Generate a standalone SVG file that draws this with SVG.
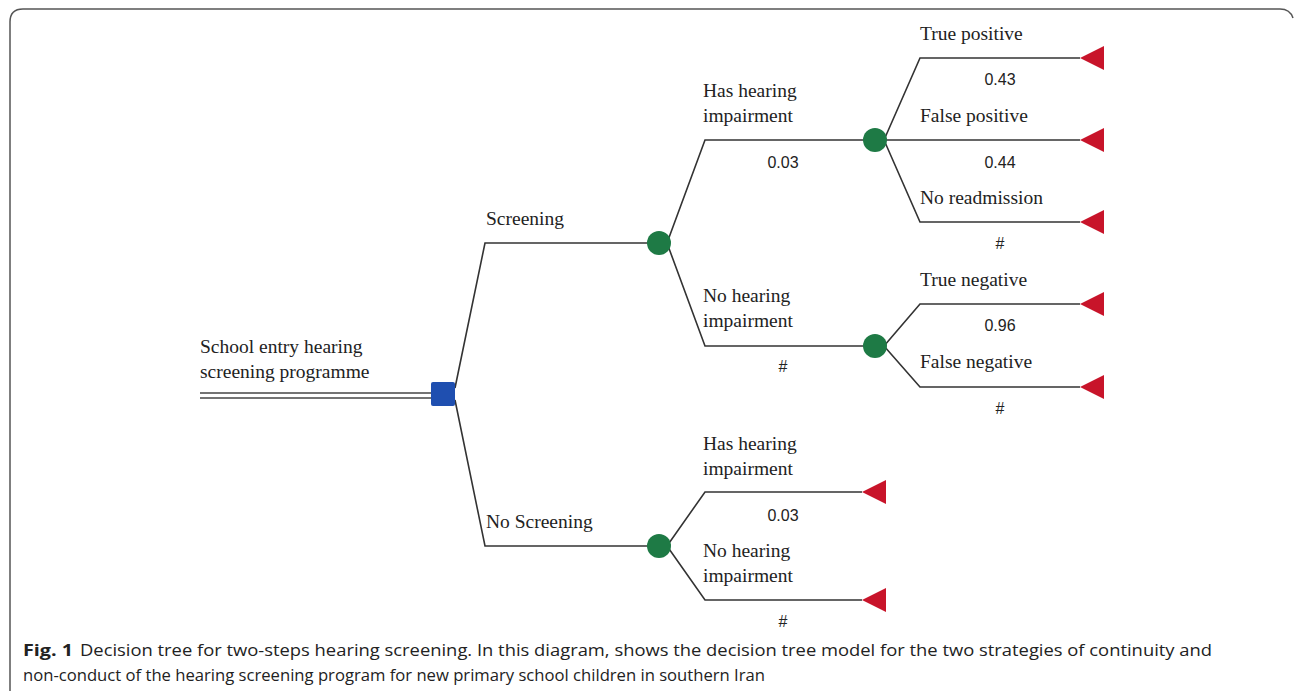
<svg xmlns="http://www.w3.org/2000/svg" width="1295" height="691" viewBox="0 0 1295 691">
<style>
.lbl{font-family:"Liberation Serif","DejaVu Serif",serif;font-size:19.5px;fill:#222}
.val{font-family:"Liberation Sans","DejaVu Sans",sans-serif;font-size:16px;fill:#222;text-anchor:middle}
.ln{stroke:#333;stroke-width:1.6;fill:none}
.chance{fill:#1e7a45}
.term{fill:#c8142a}
.cap{font-family:"Open Sans","Noto Sans",sans-serif;font-size:16px;fill:#222}
</style>
<defs>
<polygon id="tri" points="0,0 24,-12 24,12" class="term"/>
</defs>
<path d="M10,691 V22 Q10,9 23,9 H1280 Q1290,9 1293,18" fill="none" stroke="#555" stroke-width="1.5"/>
<g id="connectors">
<line x1="200" y1="393" x2="432" y2="393" stroke="#444" stroke-width="1.5"/>
<line x1="200" y1="398" x2="432" y2="398" stroke="#444" stroke-width="1.5"/>
<path class="ln" d="M455,388 L485,243 H659"/>
<path class="ln" d="M455,400 L485,546 H659"/>
<path class="ln" d="M667,243 L705,140 H875"/>
<path class="ln" d="M667,243 L705,346 H875"/>
<path class="ln" d="M884,140 L920,58 H1080"/>
<path class="ln" d="M884,140 H1080"/>
<path class="ln" d="M884,140 L920,222 H1080"/>
<path class="ln" d="M884,346 L920,304 H1080"/>
<path class="ln" d="M884,346 L920,387 H1080"/>
<path class="ln" d="M667,546 L705,492 H862"/>
<path class="ln" d="M667,546 L705,600 H862"/>
</g>
<g id="root">
<rect x="431" y="382" width="24" height="24" rx="2" fill="#1f4fb0"/>
<text class="lbl" x="200" y="353">School entry hearing</text>
<text class="lbl" x="200" y="378">screening programme</text>
</g>
<g id="screening">
<circle cx="659" cy="243" r="12" class="chance"/>
<text class="lbl" x="486" y="225">Screening</text>
</g>
<g id="no-screening">
<circle cx="659" cy="546" r="12" class="chance"/>
<text class="lbl" x="486" y="528">No Screening</text>
</g>
<g id="s-has">
<circle cx="875" cy="140" r="12" class="chance"/>
<text class="lbl" x="703" y="97">Has hearing</text>
<text class="lbl" x="703" y="122">impairment</text>
<text class="val" x="783" y="168">0.03</text>
</g>
<g id="s-no">
<circle cx="875" cy="346" r="12" class="chance"/>
<text class="lbl" x="703" y="302">No hearing</text>
<text class="lbl" x="703" y="327">impairment</text>
<text class="val" x="783" y="372">#</text>
</g>
<g id="true-positive">
<use href="#tri" x="1080" y="58"/>
<text class="lbl" x="920" y="40">True positive</text>
<text class="val" x="1000" y="85">0.43</text>
</g>
<g id="false-positive">
<use href="#tri" x="1080" y="140"/>
<text class="lbl" x="920" y="122">False positive</text>
<text class="val" x="1000" y="168">0.44</text>
</g>
<g id="no-readmission">
<use href="#tri" x="1080" y="222"/>
<text class="lbl" x="920" y="204">No readmission</text>
<text class="val" x="1000" y="249">#</text>
</g>
<g id="true-negative">
<use href="#tri" x="1080" y="304"/>
<text class="lbl" x="920" y="286">True negative</text>
<text class="val" x="1000" y="331">0.96</text>
</g>
<g id="false-negative">
<use href="#tri" x="1080" y="387"/>
<text class="lbl" x="920" y="368">False negative</text>
<text class="val" x="1000" y="414">#</text>
</g>
<g id="ns-has">
<use href="#tri" x="862" y="492"/>
<text class="lbl" x="703" y="450">Has hearing</text>
<text class="lbl" x="703" y="475">impairment</text>
<text class="val" x="783" y="521">0.03</text>
</g>
<g id="ns-no">
<use href="#tri" x="862" y="600"/>
<text class="lbl" x="703" y="557">No hearing</text>
<text class="lbl" x="703" y="582">impairment</text>
<text class="val" x="783" y="627">#</text>
</g>
<g id="caption">
<text class="cap" x="23" y="656" font-weight="bold" font-size="18" textLength="50" lengthAdjust="spacingAndGlyphs">Fig. 1</text>
<text class="cap" x="80" y="656" textLength="1132" lengthAdjust="spacingAndGlyphs">Decision tree for two-steps hearing screening. In this diagram, shows the decision tree model for the two strategies of continuity and</text>
<text class="cap" x="23" y="681" textLength="742" lengthAdjust="spacingAndGlyphs">non-conduct of the hearing screening program for new primary school children in southern Iran</text>
</g>
</svg>
